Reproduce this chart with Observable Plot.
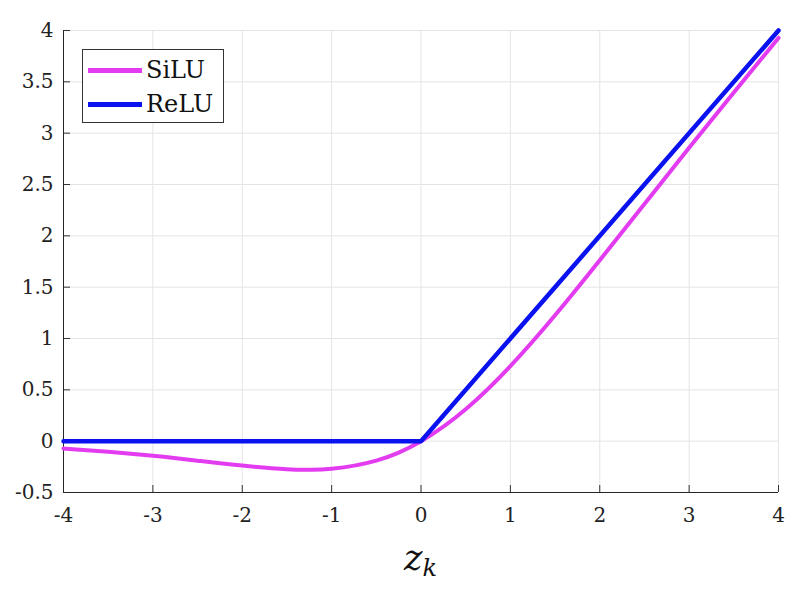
<!DOCTYPE html>
<html>
<head>
<meta charset="utf-8">
<script src="https://cdn.jsdelivr.net/npm/d3@7"></script>
<script src="https://cdn.jsdelivr.net/npm/@observablehq/plot@0.6"></script>
<style>
  body { margin: 0; background: #fff; }
  #grafico { position: relative; width: 800px; height: 589px; }
  #leyenda {
    position: absolute; left: 82px; top: 49px; width: 140px; height: 72px;
    border: 1px solid #333; background: #fff;
    font-family: "DejaVu Serif"; font-size: 24px; color: #111;
  }
  #leyenda .fila { position: absolute; left: 5px; height: 30px; display: flex; align-items: center; }
  #leyenda .muestra { width: 54px; height: 5px; margin-right: 4px; }
</style>
</head>
<body>
<div id="grafico"></div>
<script>
// valores
let zSilu = [-4, -3.5, -3, -2.5, -2, -1.5, -1.25, -1, -0.5, 0, 0.5, 1, 1.5, 2, 2.5, 3, 3.5, 4];
let ySilu = [-0.072, -0.103, -0.142, -0.19, -0.238, -0.274, -0.279, -0.269, -0.189, 0, 0.311, 0.731, 1.226, 1.762, 2.31, 2.858, 3.395, 3.928];
let zRelu = [-4, 0, 4];
let yRelu = [0, 0, 4];
let xTicks = [-4, -3, -2, -1, 0, 1, 2, 3, 4];
let yTicks = [-0.5, 0, 0.5, 1, 1.5, 2, 2.5, 3, 3.5, 4];
let series = [
  { name: "SiLU", color: "#e33cf0" },
  { name: "ReLU", color: "#0a12f0" }
];

let siluData = zSilu.map((z, i) => ({ z: z, y: ySilu[i] }));
let reluData = zRelu.map((z, i) => ({ z: z, y: yRelu[i] }));

let chart = Plot.plot({
  width: 800,
  height: 589,
  marginLeft: 63,
  marginRight: 22,
  marginTop: 30,
  marginBottom: 97,
  style: { fontFamily: "DejaVu Serif", fontSize: "20px", color: "#222", background: "#fff" },
  x: { domain: [-4, 4] },
  y: { domain: [-0.5, 4] },
  marks: [
    Plot.gridX(xTicks, { stroke: "#e4e4e4", strokeOpacity: 1 }),
    Plot.gridY(yTicks, { stroke: "#e4e4e4", strokeOpacity: 1 }),
    // ticks hacia adentro
    Plot.axisX(xTicks, { tickSize: 7, dy: -7, tickFormat: () => "", label: null, stroke: "#333" }),
    Plot.axisY(yTicks, { tickSize: 7, dx: 7, tickFormat: () => "", label: null, stroke: "#333" }),
    Plot.axisX(xTicks, { tickSize: 0, tickPadding: 15, tickFormat: d => `${d}`, label: null, fontSize: 20 }),
    Plot.axisY(yTicks, { tickSize: 0, tickPadding: 10, tickFormat: d => `${d}`, label: null, fontSize: 20 }),
    Plot.ruleX([-4], { stroke: "#262626" }),
    Plot.ruleY([-0.5], { stroke: "#262626" }),
    Plot.line(siluData, { x: "z", y: "y", stroke: series[0].color, strokeWidth: 4, curve: "natural" }),
    Plot.line(reluData, { x: "z", y: "y", stroke: series[1].color, strokeWidth: 4.5 })
  ]
});

// etiqueta del eje x: z_k
let sx = chart.scale("x");
let label = d3.select(chart).append("text")
  .attr("x", sx.apply(0))
  .attr("y", 570)
  .attr("text-anchor", "middle")
  .attr("fill", "#111")
  .style("font-family", "DejaVu Serif")
  .style("font-style", "italic")
  .style("font-size", "35px");
label.append("tspan").text("z");
label.append("tspan").attr("dy", 6).style("font-size", "24px").text("k");

d3.select('#grafico').append(() => chart);

// leyenda
let leyenda = d3.select('#grafico').append("div").attr("id", "leyenda");
series.forEach((s, i) => {
  let fila = leyenda.append("div").attr("class", "fila").style("top", (5 + i * 34) + "px");
  fila.append("div").attr("class", "muestra").style("background", s.color);
  fila.append("span").text(s.name);
});
</script>
</body>
</html>
